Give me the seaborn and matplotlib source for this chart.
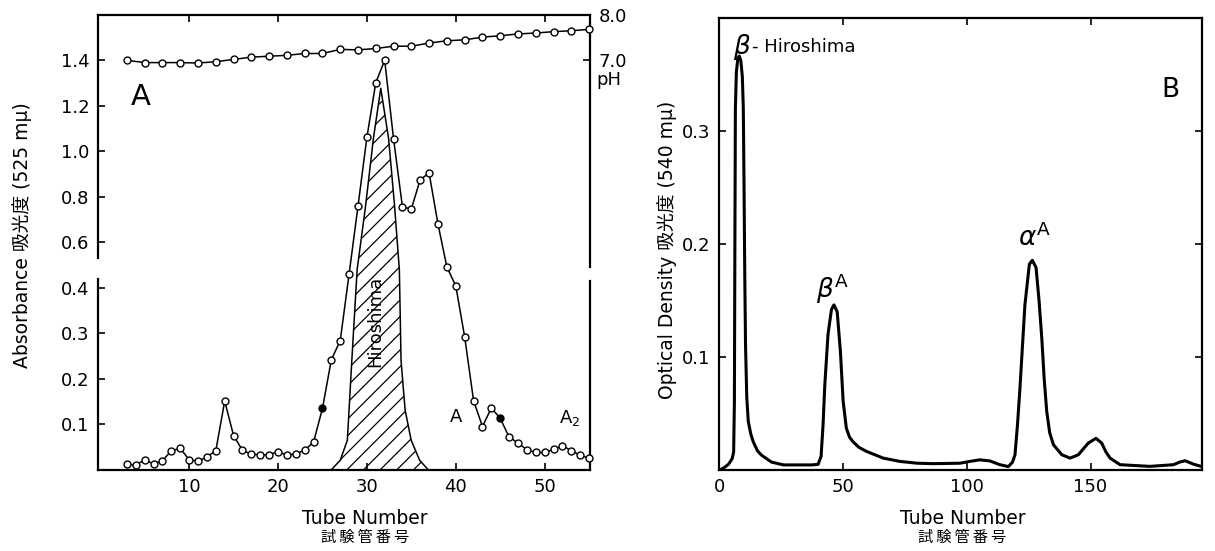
import numpy as np
import pandas as pd
import matplotlib
matplotlib.use("Agg")
import matplotlib.pyplot as plt
import seaborn as sns

# ---------------- data: panel A ----------------
tube_A = [3, 4, 5, 6, 7, 8, 9, 10, 11, 12, 13, 14, 15, 16, 17, 18, 19, 20, 21, 22,
          23, 24, 25, 26, 27, 28, 29, 30, 31, 32, 33, 34, 35, 36, 37, 38, 39, 40, 41,
          42, 43, 44, 45, 46, 47, 48, 49, 50, 51, 52, 53, 54, 55]
absorbance_A = [0.012, 0.010, 0.022, 0.013, 0.020, 0.042, 0.047, 0.022, 0.019, 0.028,
                0.042, 0.151, 0.075, 0.043, 0.034, 0.033, 0.033, 0.040, 0.032, 0.035,
                0.043, 0.061, 0.135, 0.242, 0.284, 0.462, 0.760, 1.062, 1.302, 1.400,
                1.054, 0.755, 0.747, 0.876, 0.904, 0.679, 0.491, 0.408, 0.292, 0.152,
                0.095, 0.136, 0.113, 0.072, 0.059, 0.044, 0.038, 0.038, 0.045, 0.053,
                0.042, 0.032, 0.025]
filled_tubes_A = [25, 45]

ph_tube = [3, 5, 7, 9, 11, 13, 15, 17, 19, 21, 23, 25, 27, 29, 31, 33, 35, 37, 39,
           41, 43, 45, 47, 49, 51, 53, 55]
ph_value = [7.00, 6.95, 6.95, 6.95, 6.94, 6.97, 7.02, 7.07, 7.09, 7.11, 7.15, 7.15,
            7.24, 7.23, 7.26, 7.31, 7.31, 7.38, 7.43, 7.45, 7.51, 7.54, 7.58, 7.60,
            7.63, 7.65, 7.68]

# Hiroshima component (hatched)
hiro_tube = [26.0, 27.0, 27.8, 28.3, 28.9, 29.85, 30.73, 31.56, 32.44, 33.09, 33.65,
             33.84, 34.3, 34.98, 35.93, 36.9]
hiro_abs = [0.0, 0.021, 0.065, 0.24, 0.48, 0.76, 1.056, 1.277, 1.056, 0.77, 0.48,
            0.24, 0.131, 0.065, 0.021, 0.0]

# ---------------- data: panel B ----------------
tube_B = [0.3, 2.0, 3.8, 5.3, 5.9, 6.2, 6.4, 6.6, 7.0, 7.6, 8.2, 8.8, 9.4, 9.8, 10.1,
          10.4, 10.7, 11.2, 11.8, 12.8, 13.8, 15.5, 17.2, 21.2, 26.0, 32.0, 37.4, 40.0,
          41.2, 42.0, 42.7, 44.0, 45.4, 46.4, 47.7, 49.0, 50.1, 51.4, 52.7, 54.1, 56.5,
          59.5, 66.3, 73.0, 80.0, 86.5, 97.3, 101.0, 105.3, 109.4, 113.4, 116.8, 118.5,
          119.5, 120.5, 121.5, 123.5, 125.3, 126.5, 128.0, 129.2, 130.3, 131.3, 132.3,
          133.5, 135.0, 138.4, 141.7, 145.1, 147.2, 149.1, 152.2, 154.5, 156.2, 157.9,
          161.9, 174.0, 183.5, 186.0, 188.2, 191.5, 195.0]
od_B = [0.000, 0.002, 0.005, 0.010, 0.016, 0.060, 0.200, 0.320, 0.352, 0.364, 0.366,
        0.362, 0.348, 0.320, 0.250, 0.170, 0.110, 0.064, 0.043, 0.032, 0.025, 0.017,
        0.013, 0.007, 0.0045, 0.0045, 0.0045, 0.005, 0.012, 0.040, 0.075, 0.120, 0.142,
        0.146, 0.140, 0.105, 0.061, 0.037, 0.029, 0.025, 0.020, 0.0165, 0.0105, 0.0076,
        0.006, 0.0056, 0.006, 0.0075, 0.009, 0.008, 0.0047, 0.003, 0.007, 0.0135, 0.040,
        0.0725, 0.146, 0.182, 0.1854, 0.179, 0.150, 0.117, 0.080, 0.052, 0.033, 0.0224,
        0.0135, 0.0105, 0.0135, 0.019, 0.0238, 0.028, 0.0238, 0.016, 0.0105, 0.0047,
        0.0032, 0.0047, 0.007, 0.0082, 0.0052, 0.003]

xticks_A = [10, 20, 30, 40, 50]
yticks_A = [0.1, 0.2, 0.3, 0.4, 0.6, 0.8, 1.0, 1.2, 1.4]
phticks = [7.0, 8.0]
xticks_B = [0, 50, 100, 150]
yticks_B = [0.1, 0.2, 0.3]

# ---------------- style ----------------
sns.set_style("white")
plt.rcParams["font.family"] = ["DejaVu Sans", "Noto Sans CJK JP"]
plt.rcParams["hatch.linewidth"] = 0.9
for k in ["text.color", "axes.labelcolor", "xtick.color", "ytick.color",
          "axes.edgecolor", "hatch.color"]:
    plt.rcParams[k] = "black"

fig = plt.figure(figsize=(12.15, 5.51), dpi=100)
axA = fig.add_axes([0.0807, 0.1474, 0.4049, 0.8257])
axB = fig.add_axes([0.5918, 0.147, 0.3975, 0.821])

LW_SPINE = 1.6
CJK = ["Noto Sans CJK JP", "DejaVu Sans"]

# ================= Panel A =================
def fwd(v):
    v = np.asarray(v, dtype=float)
    return np.where(v <= 0.4, 2.0 * v, v + 0.4)

def inv(y):
    y = np.asarray(y, dtype=float)
    return np.where(y <= 0.8, y / 2.0, y - 0.4)

axA.set_yscale("function", functions=(fwd, inv))

dfA = pd.DataFrame({"tube": tube_A, "abs": absorbance_A})
dfH = pd.DataFrame({"tube": hiro_tube, "abs": hiro_abs})
dfP = pd.DataFrame({"tube": ph_tube, "ph": ph_value})

axA.fill_between(dfH["tube"], 0, dfH["abs"], facecolor="none", edgecolor="black",
                 hatch="//", linewidth=0, zorder=1)
sns.lineplot(data=dfH, x="tube", y="abs", ax=axA, color="black", lw=1.1,
             sort=False, zorder=2)
sns.lineplot(data=dfA, x="tube", y="abs", ax=axA, color="black", lw=1.1,
             marker="o", markersize=5, markerfacecolor="white",
             markeredgecolor="black", markeredgewidth=1.0, zorder=3, clip_on=False)
dfF = dfA[dfA["tube"].isin(filled_tubes_A)]
sns.scatterplot(data=dfF, x="tube", y="abs", ax=axA, color="black", s=22,
                edgecolor="black", zorder=4)

axA.set_xlim(-0.25, 55.1)
axA.set_ylim(0, 1.6)
axA.set_xticks(xticks_A)
axA.set_yticks(yticks_A)
axA.set_yticklabels([f"{v:.1f}" for v in yticks_A])
axA.tick_params(axis="both", direction="in", length=5, width=1.2, labelsize=13,
                top=True, bottom=True, left=True, right=False, pad=6)
axA.set_xlabel("")
axA.set_ylabel("")
for s in ["top", "bottom"]:
    axA.spines[s].set_linewidth(LW_SPINE)
axA.spines["left"].set_visible(False)
axA.spines["right"].set_visible(False)
ytr = axA.get_yaxis_transform()
for xa, (g0, g1) in [(0, (0.44, 0.53)), (1, (0.43, 0.49))]:
    axA.plot([xa, xa], [0, g0], transform=ytr, color="black", lw=LW_SPINE,
             clip_on=False, solid_capstyle="projecting")
    axA.plot([xa, xa], [g1, 1.6], transform=ytr, color="black", lw=LW_SPINE,
             clip_on=False, solid_capstyle="projecting")

# pH twin axis
axP = axA.twinx()
sns.lineplot(data=dfP, x="tube", y="ph", ax=axP, color="black", lw=1.1,
             marker="o", markersize=5, markerfacecolor="white",
             markeredgecolor="black", markeredgewidth=1.0, clip_on=False)
axP.set_ylim(-2, 8)
axP.set_yticks(phticks)
axP.set_yticklabels([f"{v:.1f}" for v in phticks])
axP.tick_params(axis="y", direction="in", length=5, width=1.2, labelsize=13, pad=6)
axP.set_ylabel("")
for s in axP.spines.values():
    s.set_visible(False)
axP.text(1.012, 6.57, "pH", transform=axP.get_yaxis_transform(), fontsize=13,
         ha="left", va="center")

# annotations A
axA.text(4.6, 1.24, "A", fontsize=21, ha="center", va="center")
axA.text(30.9, 0.326, "Hiroshima", fontsize=13, rotation=90, ha="center", va="center")
axA.text(40.0, 0.117, "A", fontsize=13, ha="center", va="center")
axA.text(52.8, 0.113, "A$_2$", fontsize=13, ha="center", va="center")

axA.text(0.542, -0.106, "Tube Number", transform=axA.transAxes, fontsize=13.5,
         ha="center", va="center")
axA.text(0.542, -0.149, "試\u2009験\u2009管\u2009番\u2009号", transform=axA.transAxes,
         fontsize=11, ha="center", va="center", family=CJK)
axA.text(-0.154, 0.515, "Absorbance 吸光度 (525 mμ)", transform=axA.transAxes,
         fontsize=13.5, rotation=90, ha="center", va="center")

# ================= Panel B =================
dfB = pd.DataFrame({"tube": tube_B, "od": od_B})
sns.lineplot(data=dfB, x="tube", y="od", ax=axB, color="black", lw=2.2, sort=False)
axB.set_xlim(0, 195)
axB.set_ylim(0, 0.4)
axB.set_xticks(xticks_B)
axB.set_yticks(yticks_B)
axB.set_yticklabels([f"{v:.1f}" for v in yticks_B])
axB.tick_params(axis="both", direction="in", length=5, width=1.2, labelsize=13,
                top=True, bottom=True, left=True, right=True, pad=6)
axB.set_xlabel("")
axB.set_ylabel("")
for s in axB.spines.values():
    s.set_linewidth(LW_SPINE)

axB.text(9.0, 0.3738, "β", fontsize=19, ha="center", va="center", style="italic")
axB.text(13.5, 0.3738, "- Hiroshima", fontsize=13, ha="left", va="center")
axB.text(182.2, 0.336, "B", fontsize=19, ha="center", va="center")
axB.text(45.7, 0.16, r"$\beta^{\mathrm{A}}$", fontsize=19, ha="center", va="center")
axB.text(127.4, 0.205, r"$\alpha^{\mathrm{A}}$", fontsize=19, ha="center", va="center")

axB.text(0.504, -0.107, "Tube Number", transform=axB.transAxes, fontsize=13.5,
         ha="center", va="center")
axB.text(0.504, -0.149, "試\u2009験\u2009管\u2009番\u2009号", transform=axB.transAxes,
         fontsize=11, ha="center", va="center", family=CJK)
axB.text(-0.107, 0.486, "Optical Density 吸光度 (540 mμ)", transform=axB.transAxes,
         fontsize=13.5, rotation=90, ha="center", va="center")

fig.savefig("out.png", dpi=100, facecolor="white")
